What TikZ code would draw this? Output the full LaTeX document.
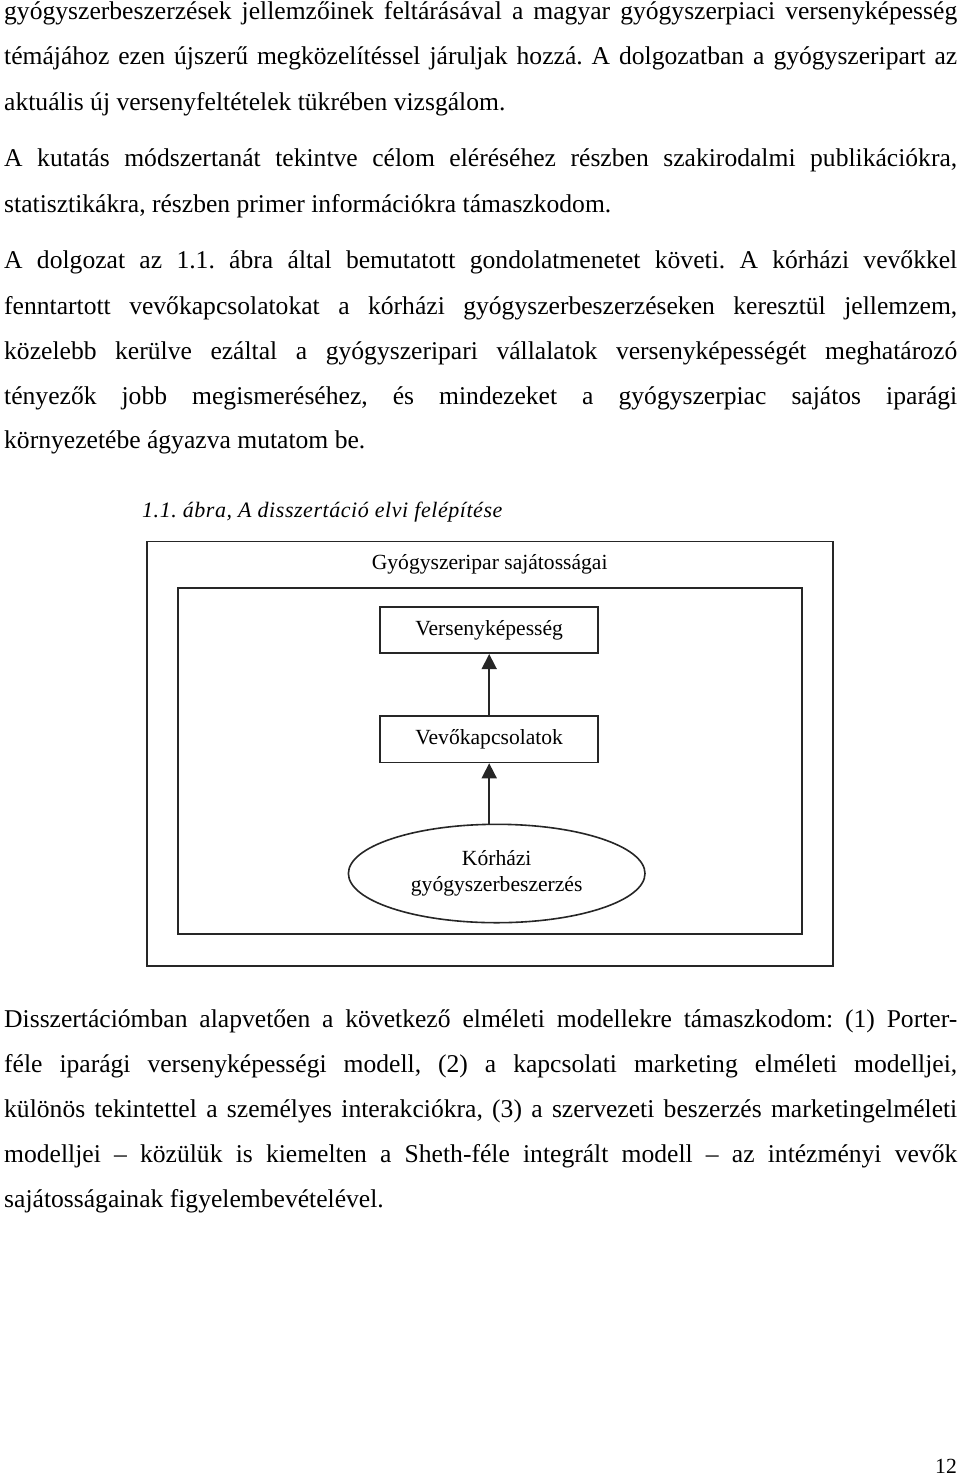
\documentclass[tikz,border=0pt]{standalone}
\usepackage{fontspec}
\setmainfont{Liberation Serif}
\usetikzlibrary{shapes.geometric,arrows.meta}
\newcommand{\jline}[1]{\makebox[953pt][s]{#1}}
\frenchspacing
\tikzset{
  body/.style={anchor=base west, inner sep=0pt, font=\fontsize{25.6}{30}\selectfont},
  dtext/.style={font=\fontsize{21.6}{25.7}\selectfont},
  captext/.style={anchor=base west, inner sep=0pt, font=\fontsize{22}{26}\selectfont\itshape\addfontfeatures{LetterSpace=2.5}},
  frame/.style={draw=black!85, line width=1.6pt, inner sep=0pt},
  boxnode/.style={frame, minimum width=218pt, minimum height=46.5pt, dtext},
  arr/.style={draw=black!85, line width=1.6pt, -{Triangle[length=15pt,width=15pt]}}
}
\begin{document}
\begin{tikzpicture}[x=1pt,y=-1pt]
\useasboundingbox (0,0) rectangle (960,1475);
\fill[white] (0,0) rectangle (960,1475);
% paragraph 1
\node[body] (l1) at (4,19) {\jline{gyógyszerbeszerzések jellemzőinek feltárásával a magyar gyógyszerpiaci versenyképesség}};
\node[body] (l2) at (4,64) {\jline{témájához ezen újszerű megközelítéssel járuljak hozzá. A dolgozatban a gyógyszeripart az}};
\node[body] (l3) at (4,110) {aktuális új versenyfeltételek tükrében vizsgálom.};
% paragraph 2
\node[body] (l4) at (4,166) {\jline{A kutatás módszertanát tekintve célom eléréséhez részben szakirodalmi publikációkra,}};
\node[body] (l5) at (4,212) {statisztikákra, részben primer információkra támaszkodom.};
% paragraph 3
\node[body] (l6) at (4,268) {\jline{A dolgozat az 1.1. ábra által bemutatott gondolatmenetet követi. A kórházi vevőkkel}};
\node[body] (l7) at (4,314) {\jline{fenntartott vevőkapcsolatokat a kórházi gyógyszerbeszerzéseken keresztül jellemzem,}};
\node[body] (l8) at (4,359) {\jline{közelebb kerülve ezáltal a gyógyszeripari vállalatok versenyképességét meghatározó}};
\node[body] (l9) at (4,404) {\jline{tényezők jobb megismeréséhez, és mindezeket a gyógyszerpiac sajátos iparági}};
\node[body] (l10) at (4,448) {környezetébe ágyazva mutatom be.};
% caption
\node[captext] (cap) at (142,517) {1.1. ábra, A disszertáció elvi felépítése};
% diagram
\node[frame, anchor=north west, minimum width=686.3pt, minimum height=424.6pt] (outer) at (146,540.7) {};
\node[anchor=base, inner sep=0pt, dtext] (otitle) at (489.7,569) {Gyógyszeripar sajátosságai};
\node[frame, anchor=north west, minimum width=623.7pt, minimum height=346pt] (inner) at (177.3,587.3) {};
\node[boxnode] (verseny) at (489.2,630) {Versenyképesség};
\node[boxnode] (vevo) at (489.2,739.2) {Vevőkapcsolatok};
\node[frame, ellipse, minimum width=296.6pt, minimum height=98.4pt, dtext, align=center] (korhaz) at (496.7,873.5) {Kórházi\\gyógyszerbeszerzés};
\draw[arr] (vevo.south |- korhaz.north) -- (vevo.south);
\draw[arr] (vevo.north) -- (verseny.south);
% paragraph 4
\node[body] (l11) at (4,1027) {\jline{Disszertációmban alapvetően a következő elméleti modellekre támaszkodom: (1) Porter-}};
\node[body] (l12) at (4,1072) {\jline{féle iparági versenyképességi modell, (2) a kapcsolati marketing elméleti modelljei,}};
\node[body] (l13) at (4,1117) {\jline{különös tekintettel a személyes interakciókra, (3) a szervezeti beszerzés marketingelméleti}};
\node[body] (l14) at (4,1162) {\jline{modelljei – közülük is kiemelten a Sheth-féle integrált modell – az intézményi vevők}};
\node[body] (l15) at (4,1207) {sajátosságainak figyelembevételével.};
% page number
\node[anchor=base east, inner sep=0pt, dtext] (pnum) at (957,1473) {12};
\end{tikzpicture}
\end{document}
